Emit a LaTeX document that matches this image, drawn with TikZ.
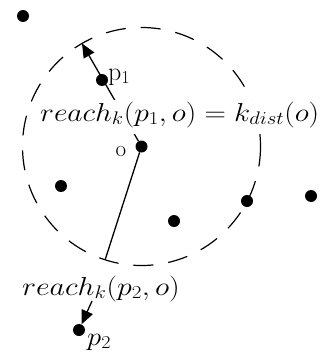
\RequirePackage{fix-cm}
\documentclass[tikz,border=0pt]{standalone}
\usetikzlibrary{arrows.meta,calc}
\newcommand\eqsz{\fontsize{26}{30}\selectfont}
\newcommand\labsz{\fontsize{26}{30}\selectfont}
\begin{document}
\begin{tikzpicture}[x=1pt,y=-1pt,
  dot/.style={circle,fill=black,inner sep=0pt,minimum size=12pt},
  conn/.style={line width=1.3pt},
  arr/.style={conn,-{Triangle[length=14pt,width=12pt]}},
  lab/.style={inner sep=0pt}]
\useasboundingbox (0,0) rectangle (324,353);
% points
\node[dot] (d1) at (23,16) {};
\node[dot] (p1) at (102,80) {};
\node[dot] (o) at (141.5,146.5) {};
\node[dot] (d2) at (61,186) {};
\node[dot] (d3) at (174,221) {};
\node[dot] (d4) at (247,201) {};
\node[dot] (d5) at (311,196) {};
\node[dot] (p2) at (79,330) {};
% circle
\draw[line width=1.2pt, dash pattern=on 20pt off 15pt] (o.center) circle[radius=119];
% radii
\coordinate (t1) at ($(o.center)+(-120:119)$);
\coordinate (b1) at ($(o.center)+(107.8:119)$);
\draw[arr] (o) -- (t1);
\draw[conn] (o) -- (b1);
% texts
\node[lab, fill=white, anchor=base west, text height=21pt, text depth=13pt] (e1) at (40,121)
  {\eqsz\scalebox{1.14}[1]{$reach_k(p_1,o) = k_{dist}(o)$}};
\node[lab, anchor=base west] (e2) at (22,295)
  {\eqsz\scalebox{1.15}[1]{$reach_k(p_2,o)$}};
\node[lab, anchor=base west] (l1) at (108,80) {\labsz$\mathrm{p}_1$};
\node[lab, anchor=base] (lo) at (121,156) {\fontsize{23}{27}\selectfont o};
\node[lab, anchor=base west] (l2) at (87,345) {\labsz\scalebox{1.1}[1]{$p_2$}};
% arrow to p2
\coordinate (s2) at (92,301);
\draw[arr] (s2) -- (p2);
\end{tikzpicture}
\end{document}
